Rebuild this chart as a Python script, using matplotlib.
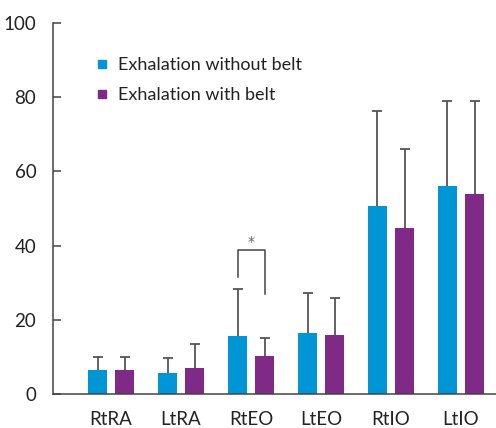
import matplotlib
matplotlib.use("Agg")
import matplotlib.pyplot as plt
from matplotlib.lines import Line2D
import numpy as np

categories = ["RtRA", "LtRA", "RtEO", "LtEO", "RtIO", "LtIO"]
without_belt = [6.5, 5.7, 15.6, 16.4, 50.7, 56.1]
without_belt_sd = [3.5, 4.1, 12.8, 10.9, 25.6, 23.0]
with_belt = [6.5, 7.0, 10.2, 15.9, 44.8, 53.9]
with_belt_sd = [3.5, 6.4, 5.0, 10.1, 21.2, 25.2]
series_labels = ["Exhalation without belt", "Exhalation with belt"]
yticks = [0, 20, 40, 60, 80, 100]

blue = "#0096D6"
purple = "#7F2A86"
errc = "#555555"
axc = "#444444"
txt = "#222222"

plt.rcParams['font.family'] = ['Lato', 'DejaVu Sans']

fig = plt.figure(figsize=(4.96, 4.28), dpi=100)
ax = fig.add_axes([53/496, 34/428, 443/496, 371/428])

x = np.arange(len(categories))
w = 0.264
off = 0.193
ax.bar(x - off, without_belt, w, color=blue, zorder=2)
ax.bar(x + off, with_belt, w, color=purple, zorder=2)
ekw = dict(fmt="none", ecolor=errc, elinewidth=1.3, capsize=3.5, capthick=1.3, zorder=1)
for xs, vals, sd in ((x - off, without_belt, without_belt_sd), (x + off, with_belt, with_belt_sd)):
    eb = ax.errorbar(xs, vals, yerr=[np.zeros(len(x)), sd], **ekw)
    eb[1][0].set_visible(False)  # hide the lower caps

# significance bracket for RtEO
i = 2
ax.plot([i - off, i - off, i + off, i + off], [31.6, 38.7, 38.7, 26.9],
        color=axc, lw=1.1, zorder=3)
ax.text(i, 39.2, "*", ha="center", va="bottom", fontsize=10, color="#666666",
        family="DejaVu Sans")

ax.set_xlim(-0.829, 5.5)
ax.set_ylim(0, 100)
ax.set_yticks(yticks)
ax.set_xticks(x)
ax.set_xticklabels(categories)
for s in ["top", "right"]:
    ax.spines[s].set_visible(False)
for s in ["left", "bottom"]:
    ax.spines[s].set_color(axc)
    ax.spines[s].set_linewidth(1.1)
ax.tick_params(axis="y", direction="in", length=6, width=1.1, color=axc,
               labelsize=13.5, labelcolor=txt, pad=12)
ax.tick_params(axis="x", length=0, labelsize=13.5, labelcolor=txt, pad=12)

handles = [Line2D([], [], marker="s", color=c, linestyle="none", markersize=6)
           for c in (blue, purple)]
fig.legend(handles, series_labels, loc="upper left",
           bbox_to_anchor=(95/496, 1 - 57/428), frameon=False, fontsize=13,
           handlelength=0.8, handletextpad=0.45, labelspacing=0.78,
           labelcolor=txt, borderpad=0, borderaxespad=0)

fig.savefig("out.png", dpi=100)
